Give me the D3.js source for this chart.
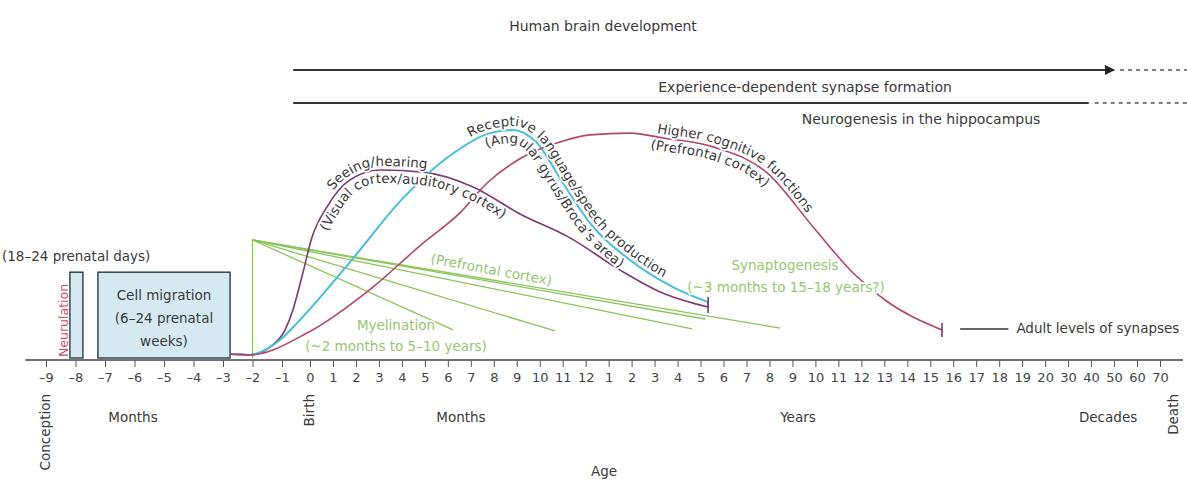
<!DOCTYPE html>
<html>
<head>
<meta charset="utf-8">
<script src="https://cdn.jsdelivr.net/npm/d3@7"></script>
<style>
  body { margin: 0; background: #fff; }
  svg text { font-family: "DejaVu Sans", sans-serif; }
</style>
</head>
<body>
<svg id="chart" width="1187" height="481"></svg>
<script>
// tick labels of the age axis, one tick per label
const prenatalTicks = ['–9', '–8', '–7', '–6', '–5', '–4', '–3', '–2', '–1']
const monthTicks = ['0', '1', '2', '3', '4', '5', '6', '7', '8', '9', '10', '11', '12']
const yearTicks = ['1', '2', '3', '4', '5', '6', '7', '8', '9', '10', '11', '12', '13', '14', '15', '16', '17', '18', '19', '20']
const decadeTicks = ['30', '40', '50', '60', '70']
const tickLabels = prenatalTicks.concat(monthTicks, yearTicks, decadeTicks)

// curves: [position on the age axis (tick index), relative level]
const seeingHearing = [[6.27, 1.5], [6.92, 1.2], [7.59, 4.2], [8.11, 10.8], [8.39, 18.5], [8.71, 31.2], [9.09, 46.5], [9.74, 58.1], [10.74, 68.5], [12.05, 72.3], [13.92, 71.5], [16.1, 65.8], [18.14, 55.4], [20.32, 46.2], [22.5, 33.8], [24.24, 25.4], [26.33, 19.6]]
const receptiveLanguage = [[6.27, 1.5], [6.92, 1.2], [7.59, 4.2], [7.93, 6.9], [8.54, 13.5], [10.74, 36.9], [13.05, 61.5], [15.01, 77.3], [16.84, 86.5], [17.84, 87.7], [18.88, 82.7], [20.01, 67.3], [21.19, 51.9], [22.93, 37.7], [24.8, 27.3], [26.33, 21.5]]
const higherCognitive = [[6.27, 1.5], [6.92, 1.2], [8.89, 9.6], [11.74, 27.3], [13.92, 44.2], [15.53, 55.8], [16.71, 67.3], [18.27, 77.3], [19.88, 83.1], [21.19, 85.8], [22.93, 86.5], [24.37, 84.6], [26.55, 81.2], [28.9, 71.2], [30.9, 50.4], [32.64, 32.7], [34.03, 22.3], [36.51, 10.8]]

// synaptogenesis / myelination fan
const fanApex = [7, 45.4]
const fanEnds = [[15.23, 10.8], [19.67, 10.4], [25.63, 11.2], [26.2, 15.0], [29.46, 11.5]]

// prenatal stages (tick index range), top level
const prenatalStages = [
  { name: 'Neurulation', from: 0.81, to: 1.25 },
  { name: 'Cell migration', from: 1.76, to: 6.24 }
]
const stageTop = 33

// long-running processes at the top
const processes = [
  { name: 'Experience-dependent synapse formation', level: 110.8, from: 8.4, solidTo: 44, end: 47.2, arrow: true, labelAt: 30.55, labelDy: 22 },
  { name: 'Neurogenesis in the hippocampus', level: 98.1, from: 8.4, solidTo: 42.9, end: 47.2, arrow: false, labelAt: 35.6, labelDy: 21 }
]
const adultLevel = { from: 37.3, to: 39.4, level: 11.2 }

const sectionLabels = [
  { text: 'Months', at: 2.95 },
  { text: 'Months', at: 15.57 },
  { text: 'Years', at: 30.24 },
  { text: 'Decades', at: 43.74 }
]
const milestones = [
  { text: 'Conception', at: 0 },
  { text: 'Birth', at: 9 },
  { text: 'Death', at: 46.6 }
]

const purple = '#7b3b70'
const cyan = '#46bfd4'
const red = '#b2456c'
const green = '#8cc35a'
const greenText = '#95c670'
const ink = '#3a3a3a'
const fs = 13.5

const svg = d3.select('#chart')
const x = d3.scaleLinear().domain([0, 8, 9, 46]).range([46, 282, 310, 1160])
const y = d3.scaleLinear().domain([0, 100]).range([358, 98])
const axisY = 360

const line = d3.line()
    .x(function(d) { return x(d[0]) })
    .y(function(d) { return y(d[1]) })
    .curve(d3.curveMonotoneX)

function halo(sel) {
  return sel.attr('stroke', '#fff').attr('stroke-width', 3.5)
    .attr('stroke-linejoin', 'round').attr('paint-order', 'stroke')
}

// title
svg.append('text').attr('x', 603).attr('y', 31).attr('text-anchor', 'middle')
    .attr('font-size', 14).attr('fill', ink).text('Human brain development')

// top process lines
const defs = svg.append('defs')
defs.append('marker')
    .attr('id', 'arrow').attr('viewBox', '0 0 10 10').attr('refX', 9).attr('refY', 5)
    .attr('markerWidth', 5).attr('markerHeight', 5).attr('orient', 'auto')
  .append('path').attr('d', 'M0,0L10,5L0,10z').attr('fill', '#222')

processes.forEach(function(p) {
  svg.append('line')
      .attr('x1', x(p.from)).attr('x2', x(p.solidTo))
      .attr('y1', y(p.level)).attr('y2', y(p.level))
      .attr('stroke', '#333').attr('stroke-width', 2)
      .attr('marker-end', p.arrow ? 'url(#arrow)' : null)
  svg.append('line')
      .attr('x1', x(p.solidTo) + 6).attr('x2', x(p.end))
      .attr('y1', y(p.level)).attr('y2', y(p.level))
      .attr('stroke', '#555').attr('stroke-width', 1.5).attr('stroke-dasharray', '4,4')
  svg.append('text').attr('x', x(p.labelAt)).attr('y', y(p.level) + p.labelDy)
      .attr('text-anchor', 'middle').attr('font-size', 14).attr('fill', ink).text(p.name)
})

// prenatal boxes
svg.selectAll('rect.stage').data(prenatalStages).enter().append('rect')
    .attr('class', 'stage')
    .attr('x', function(d) { return x(d.from) })
    .attr('y', y(stageTop))
    .attr('width', function(d) { return x(d.to) - x(d.from) })
    .attr('height', y(0) - y(stageTop))
    .attr('fill', '#d6e9f1').attr('stroke', '#34474f').attr('stroke-width', 1.5)

svg.append('text').attr('x', 2).attr('y', y(stageTop) - 11)
    .attr('font-size', fs).attr('fill', ink).text('(18–24 prenatal days)')
svg.append('text').attr('transform', 'translate(' + (x(prenatalStages[0].from) - 2) + ',' + (y(0) - 1) + ') rotate(-90)')
    .attr('font-size', 12.5).attr('fill', '#d4475e').text('Neurulation')

const cm = prenatalStages[1]
const cmX = (x(cm.from) + x(cm.to)) / 2
;['Cell migration', '(6–24 prenatal', 'weeks)'].forEach(function(t, i) {
  svg.append('text').attr('x', cmX).attr('y', 300 + i * 23).attr('text-anchor', 'middle')
      .attr('font-size', fs).attr('fill', ink).text(t)
})

// green fan
const fan = svg.append('g').attr('stroke', green).attr('stroke-width', 1.3).attr('fill', 'none')
fan.append('line').attr('x1', x(fanApex[0])).attr('x2', x(fanApex[0]))
    .attr('y1', y(0)).attr('y2', y(fanApex[1]))
fan.selectAll('line.ray').data(fanEnds).enter().append('line').attr('class', 'ray')
    .attr('x1', x(fanApex[0])).attr('y1', y(fanApex[1]))
    .attr('x2', function(d) { return x(d[0]) }).attr('y2', function(d) { return y(d[1]) })

// curves
const curves = [
  { id: 'c-seeing', data: seeingHearing, color: purple, width: 1.6 },
  { id: 'c-language', data: receptiveLanguage, color: cyan, width: 2 },
  { id: 'c-cognitive', data: higherCognitive, color: red, width: 1.6 }
]
curves.forEach(function(c) {
  svg.append('path').attr('id', c.id).attr('d', line(c.data))
      .attr('fill', 'none').attr('stroke', c.color).attr('stroke-width', c.width)
})

// end bars
function endBar(data, half) {
  const last = data[data.length - 1]
  svg.append('line').attr('x1', x(last[0])).attr('x2', x(last[0]))
      .attr('y1', y(last[1]) - half).attr('y2', y(last[1]) + half)
      .attr('stroke', purple).attr('stroke-width', 1.6)
}
endBar(seeingHearing, 6)
endBar(receptiveLanguage, 5)
endBar(higherCognitive, 7)

// adult levels
svg.append('line').attr('x1', x(adultLevel.from)).attr('x2', x(adultLevel.to))
    .attr('y1', y(adultLevel.level)).attr('y2', y(adultLevel.level))
    .attr('stroke', '#333').attr('stroke-width', 1.5)
svg.append('text').attr('x', x(adultLevel.to) + 8).attr('y', y(adultLevel.level) + 4.5)
    .attr('font-size', fs).attr('fill', ink).text('Adult levels of synapses')

// labels along curves: text runs on a hidden path offset from the curve
function offsetAtX(node, px) {
  let lo = 0, hi = node.getTotalLength()
  for (let k = 0; k < 40; k++) {
    const mid = (lo + hi) / 2
    if (node.getPointAtLength(mid).x < px) lo = mid
    else hi = mid
  }
  return lo
}
function offsetPoints(node, dist) {
  const L = node.getTotalLength(), pts = []
  const n = 400
  for (let i = 0; i <= n; i++) {
    const s = L * i / n
    const p = node.getPointAtLength(s)
    const a = node.getPointAtLength(Math.max(0, s - 2))
    const b = node.getPointAtLength(Math.min(L, s + 2))
    const dx = b.x - a.x, dy = b.y - a.y
    const len = Math.hypot(dx, dy) || 1
    pts.push([p.x - dy / len * dist, p.y + dx / len * dist])
  }
  // drop points that fold back in x
  const out = [pts[0]]
  for (let i = 1; i < pts.length; i++) {
    if (pts[i][0] > out[out.length - 1][0]) out.push(pts[i])
  }
  return out
}
const curveLabels = [
  { id: 'c-seeing', text: 'Seeing/hearing', at: 10.0, off: -4 },
  { id: 'c-seeing', text: '(Visual cortex/auditory cortex)', at: 9.78, off: 13 },
  { id: 'c-language', text: 'Receptive language/speech production', at: 15.97, off: -4 },
  { id: 'c-language', text: '(Angular gyrus/Broca’s area)', at: 16.7, off: 13 },
  { id: 'c-cognitive', text: 'Higher cognitive functions', at: 24.1, off: -4 },
  { id: 'c-cognitive', text: '(Prefrontal cortex)', at: 23.8, off: 13 }
]
const smooth = d3.line().curve(d3.curveBasis)
curveLabels.forEach(function(l, i) {
  const node = document.getElementById(l.id)
  const pid = 'lp' + i
  const guide = defs.append('path').attr('id', pid).attr('d', smooth(offsetPoints(node, l.off)))
  const t = svg.append('text').attr('font-size', fs).attr('fill', ink)
  halo(t)
  t.append('textPath').attr('href', '#' + pid)
      .attr('startOffset', offsetAtX(guide.node(), x(l.at)))
      .text(l.text)
})

// green labels
halo(svg.append('text').attr('transform', 'translate(430,263) rotate(10.5)')
    .attr('font-size', fs).attr('fill', greenText).text('(Prefrontal cortex)'))
halo(svg.append('text').attr('x', 396).attr('y', 330).attr('text-anchor', 'middle')
    .attr('font-size', fs).attr('fill', greenText).text('Myelination'))
halo(svg.append('text').attr('x', 396).attr('y', 351).attr('text-anchor', 'middle')
    .attr('font-size', fs).attr('fill', greenText).text('(~2 months to 5–10 years)'))
halo(svg.append('text').attr('x', 785).attr('y', 270).attr('text-anchor', 'middle')
    .attr('font-size', fs).attr('fill', greenText).text('Synaptogenesis'))
halo(svg.append('text').attr('x', 786).attr('y', 292).attr('text-anchor', 'middle')
    .attr('font-size', fs).attr('fill', greenText).text('(~3 months to 15–18 years?)'))

// age axis
svg.append('line').attr('x1', x(-0.7)).attr('x2', x(47))
    .attr('y1', axisY).attr('y2', axisY).attr('stroke', '#444').attr('stroke-width', 1.5)
const xAxis = d3.axisBottom(x)
    .tickValues(d3.range(tickLabels.length))
    .tickFormat(function(i) { return tickLabels[i] })
    .tickSize(7).tickPadding(6)
const gAxis = svg.append('g').attr('transform', 'translate(0,' + axisY + ')').call(xAxis)
gAxis.select('.domain').remove()
gAxis.attr('font-family', null).attr('font-size', 13)
gAxis.selectAll('text').attr('fill', '#444')
gAxis.selectAll('line').attr('stroke', '#555')

svg.selectAll('text.section').data(sectionLabels).enter().append('text')
    .attr('class', 'section')
    .attr('x', function(d) { return x(d.at) }).attr('y', 422)
    .attr('text-anchor', 'middle').attr('font-size', fs).attr('fill', ink)
    .text(function(d) { return d.text })

svg.selectAll('text.milestone').data(milestones).enter().append('text')
    .attr('class', 'milestone')
    .attr('transform', function(d) { return 'translate(' + (x(d.at) + 4) + ',394) rotate(-90)' })
    .attr('text-anchor', 'end').attr('font-size', fs).attr('fill', ink)
    .text(function(d) { return d.text })

svg.append('text').attr('x', 604).attr('y', 476).attr('text-anchor', 'middle')
    .attr('font-size', fs).attr('fill', ink).text('Age')
</script>
</body>
</html>
